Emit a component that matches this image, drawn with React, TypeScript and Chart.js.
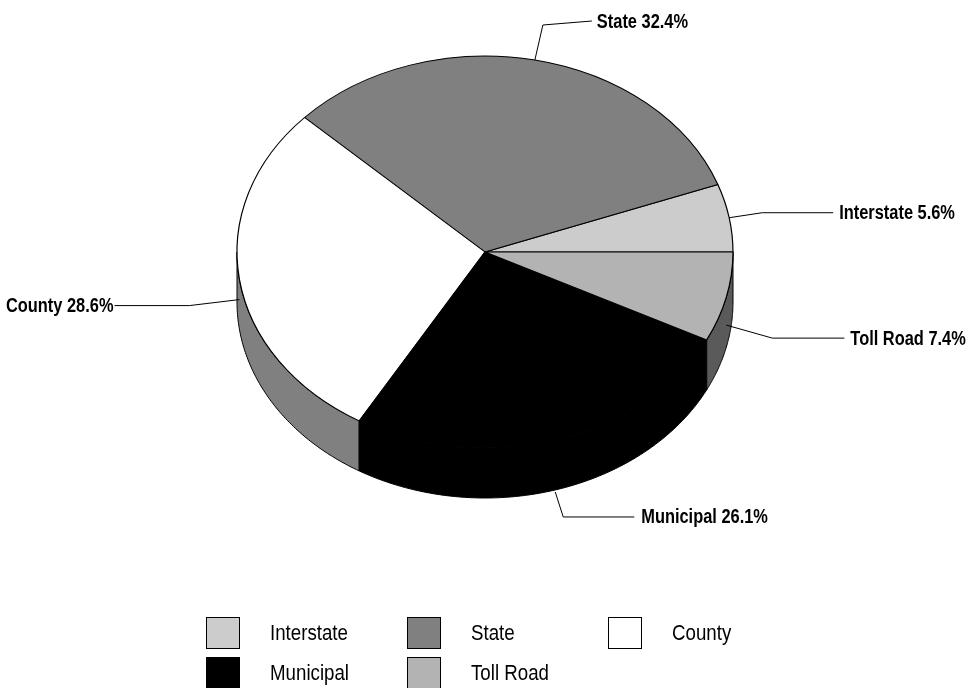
import React, { useEffect, useRef } from 'react';
import { Chart, registerables } from 'chart.js';

Chart.register(...registerables);

// ---- data ----
const categories = ['Interstate', 'State', 'County', 'Municipal', 'Toll Road'];
const shares = [5.6, 32.4, 28.6, 26.1, 7.4];
const sliceColors = ['#cccccc', '#808080', '#ffffff', '#000000', '#b3b3b3'];

// ---- styling / geometry ----
const TILT = 196 / 248; // vertical squash of the pie
const DEPTH = 50; // wall thickness
const LABEL_FONT = 'bold 20px "Liberation Sans", Arial, sans-serif';
const LABEL_SQUEEZE = 0.82;
const LEGEND_FONT = '22px "Liberation Sans", Arial, sans-serif';
const LEGEND_SQUEEZE = 0.85;

// leader line layout per slice: drop onto wall, elbow offset, end offset, text side
const leaderLayout = [
  { drop: 0, ex: 33, ey: -5, hx: 71, hy: 0, right: true, gap: 6 },
  { drop: 0, ex: 8, ey: -35, hx: 49, hy: -4, right: true, gap: 5 },
  { drop: 20, ex: -50, ey: 6, hx: -75, hy: 0, right: false, gap: 1 },
  { drop: 52, ex: 8, ey: 25, hx: 71, hy: 0, right: true, gap: 7 },
  { drop: 28, ex: 46, ey: 13, hx: 72, hy: 0, right: true, gap: 6 },
];

function shade(hex: string, f: number) {
  const n = parseInt(hex.slice(1), 16);
  const r = Math.round(((n >> 16) & 255) * f);
  const g = Math.round(((n >> 8) & 255) * f);
  const b = Math.round((n & 255) * f);
  return `rgb(${r},${g},${b})`;
}

function squeezedText(ctx: CanvasRenderingContext2D, txt: string, x: number, y: number, sx: number) {
  ctx.save();
  ctx.translate(x, y);
  ctx.scale(sx, 1);
  ctx.fillText(txt, 0, 0);
  ctx.restore();
}

const pie3d = {
  id: 'pie3d',
  beforeDatasetsDraw(chart: any) {
    const meta = chart.getDatasetMeta(0);
    const arcs = meta.data as any[];
    const ctx = chart.ctx as CanvasRenderingContext2D;
    ctx.save();
    if (!arcs.length) return;
    const cx = arcs[0].x, cy = arcs[0].y, r = arcs[0].outerRadius;
    // side walls (front half only)
    arcs.forEach((arc: any, i: number) => {
      const s = arc.startAngle, e = arc.endAngle;
      for (const off of [0, 2 * Math.PI]) {
        const lo = Math.max(s, Math.PI + off);
        const hi = Math.min(e, 2 * Math.PI + off);
        if (hi <= lo) continue;
        const N = 80;
        ctx.beginPath();
        for (let j = 0; j <= N; j++) {
          const t = lo + ((hi - lo) * j) / N;
          const px = cx + r * Math.cos(t);
          const py = cy - TILT * r * Math.sin(t);
          if (j === 0) ctx.moveTo(px, py);
          else ctx.lineTo(px, py);
        }
        for (let j = N; j >= 0; j--) {
          const t = lo + ((hi - lo) * j) / N;
          ctx.lineTo(cx + r * Math.cos(t), cy - TILT * r * Math.sin(t) + DEPTH);
        }
        ctx.closePath();
        ctx.fillStyle = shade(sliceColors[i], 0.5);
        ctx.fill();
        ctx.lineWidth = 1;
        ctx.strokeStyle = '#000';
        ctx.stroke();
      }
    });
    // flip + squash so the library's arcs are drawn as the tilted top face
    ctx.translate(cx, cy);
    ctx.scale(1, -TILT);
    ctx.translate(-cx, -cy);
  },
  afterDatasetsDraw(chart: any) {
    const ctx = chart.ctx as CanvasRenderingContext2D;
    ctx.restore();
    const meta = chart.getDatasetMeta(0);
    const arcs = meta.data as any[];
    if (!arcs.length) return;
    const cx = arcs[0].x, cy = arcs[0].y, r = arcs[0].outerRadius;
    ctx.save();
    ctx.font = LABEL_FONT;
    ctx.fillStyle = '#000';
    ctx.strokeStyle = '#000';
    ctx.lineWidth = 1;
    ctx.textBaseline = 'middle';
    arcs.forEach((arc: any, i: number) => {
      const L = leaderLayout[i];
      const mid = (arc.startAngle + arc.endAngle) / 2;
      const ax = cx + r * Math.cos(mid);
      const ay = cy - TILT * r * Math.sin(mid) + L.drop;
      const bx = ax + L.ex, by = ay + L.ey;
      const ex = bx + L.hx, ey = by + L.hy;
      ctx.beginPath();
      ctx.moveTo(ax, ay);
      ctx.lineTo(bx, by);
      ctx.lineTo(ex, ey);
      ctx.stroke();
      const txt = `${categories[i]} ${shares[i].toFixed(1)}%`;
      ctx.textAlign = L.right ? 'left' : 'right';
      squeezedText(ctx, txt, L.right ? ex + L.gap : ex - L.gap, ey + 1, LABEL_SQUEEZE);
    });
    ctx.restore();
  },
  afterDraw(chart: any) {
    const ctx = chart.ctx as CanvasRenderingContext2D;
    ctx.save();
    ctx.font = LEGEND_FONT;
    ctx.textBaseline = 'middle';
    ctx.textAlign = 'left';
    categories.forEach((name, i) => {
      const col = i % 3, row = Math.floor(i / 3);
      const x = 206 + col * 201;
      const y = 617 + row * 40;
      ctx.fillStyle = sliceColors[i];
      ctx.fillRect(x + 0.5, y + 0.5, 33, 31);
      ctx.strokeStyle = '#000';
      ctx.lineWidth = 1;
      ctx.strokeRect(x + 0.5, y + 0.5, 33, 31);
      ctx.fillStyle = '#000';
      squeezedText(ctx, name, x + 64, y + 17, LEGEND_SQUEEZE);
    });
    ctx.restore();
  },
};

export default function App() {
  const ref = useRef<HTMLCanvasElement>(null);
  useEffect(() => {
    if (!ref.current) return;
    const chart = new Chart(ref.current, {
      type: 'pie',
      data: {
        labels: categories,
        datasets: [
          {
            data: shares,
            backgroundColor: sliceColors,
            borderColor: '#000',
            borderWidth: 1.2,
            clip: false as any,
          } as any,
        ],
      },
      options: {
        responsive: false,
        animation: false,
        devicePixelRatio: 1,
        rotation: 90,
        radius: 248,
        layout: { padding: { left: 237, right: 235, top: 4, bottom: 188 } },
        plugins: { legend: { display: false }, tooltip: { enabled: false } },
        events: [],
      } as any,
      plugins: [pie3d],
    });
    return () => chart.destroy();
  }, []);
  return (
    <div style={{ position: 'absolute', left: 0, top: 0, width: 968, height: 688, background: '#fff' }}>
      <canvas ref={ref} width={968} height={688} style={{ display: 'block', width: 968, height: 688 }} />
    </div>
  );
}
